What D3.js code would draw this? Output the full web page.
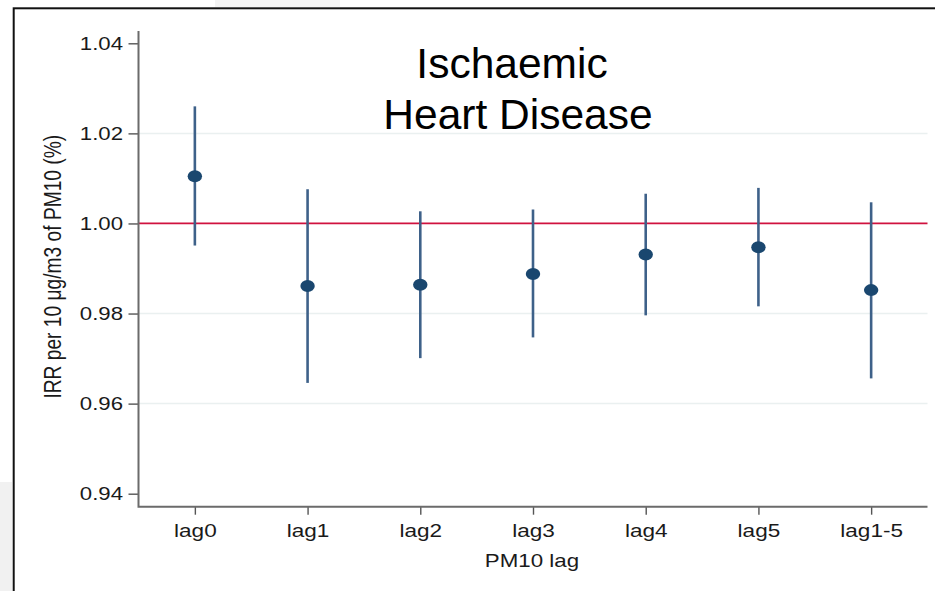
<!DOCTYPE html>
<html>
<head>
<meta charset="utf-8">
<script src="https://cdn.jsdelivr.net/npm/d3@7"></script>
<style>
  html, body { margin: 0; padding: 0; background: #fff; }
  svg { display: block; font-family: "Liberation Sans", Arial, sans-serif; }
</style>
</head>
<body>
<div id="chart"></div>
<script>
// Data
const lags = ["lag0", "lag1", "lag2", "lag3", "lag4", "lag5", "lag1-5"];
const irr = [1.0105, 0.9861, 0.9864, 0.9888, 0.9931, 0.9947, 0.9852];
const lower = [0.9951, 0.9646, 0.9701, 0.9747, 0.9796, 0.9816, 0.9656];
const upper = [1.0260, 1.0076, 1.0027, 1.0031, 1.0066, 1.0079, 1.0047];
const yTicks = [0.94, 0.96, 0.98, 1.00, 1.02, 1.04];
const gridTicks = [0.96, 0.98, 1.02];
const refValue = 1.00;

const fullWidth = 935;
const fullHeight = 591;
const stretch = 1.22; // the Stata graph was pasted slightly wide

const plot = { left: 138.5, right: 927.5, top: 31, bottom: 506.7 };

const svg = d3.select("#chart")
  .append("svg")
  .attr("width", fullWidth)
  .attr("height", fullHeight);

// slide background bits outside the frame
svg.append("rect").attr("x", 0).attr("y", 482).attr("width", 12).attr("height", 109).attr("fill", "#f1f1f1");
svg.append("rect").attr("x", 215).attr("y", 0).attr("width", 125).attr("height", 7).attr("fill", "#f3f3f3");

// frame
svg.append("rect")
  .attr("x", 13.7)
  .attr("y", 8.3)
  .attr("width", fullWidth)
  .attr("height", fullHeight)
  .attr("fill", "#fff")
  .attr("stroke", "#111")
  .attr("stroke-width", 2);

// Scales
const xScale = d3.scalePoint()
  .domain(lags)
  .range([plot.left, plot.right])
  .padding(0.5);

const yScale = d3.scaleLinear()
  .domain([0.94, 1.04])
  .range([493.7, 43.3]);

// Grid Lines
svg.append("g")
  .selectAll("line")
  .data(gridTicks)
  .join("line")
  .attr("x1", plot.left)
  .attr("x2", plot.right)
  .attr("y1", d => yScale(d))
  .attr("y2", d => yScale(d))
  .attr("stroke", "#eaf0f0")
  .attr("stroke-width", 1.5);

// reference line at 1
svg.append("line")
  .attr("x1", plot.left)
  .attr("x2", plot.right)
  .attr("y1", yScale(refValue))
  .attr("y2", yScale(refValue))
  .attr("stroke", "#d0123f")
  .attr("stroke-width", 1.8);

// Y Axis
const yAxis = svg.append("g")
  .attr("transform", `translate(${plot.left},0)`)
  .call(d3.axisLeft(yScale)
    .tickValues(yTicks)
    .tickFormat(d3.format(".2f"))
    .tickSize(10)
    .tickSizeOuter(0)
    .tickPadding(0));
yAxis.select(".domain").remove();
yAxis.selectAll(".tick line").attr("stroke", "#555").attr("stroke-width", 1.4);
yAxis.selectAll(".tick text")
  .attr("x", -15.5 / stretch)
  .attr("transform", `scale(${stretch},1)`)
  .attr("fill", "#1a1a1a")
  .style("font-size", "18.2px");

// X Axis
const xAxis = svg.append("g")
  .attr("transform", `translate(0,${plot.bottom})`)
  .call(d3.axisBottom(xScale)
    .tickSize(8)
    .tickSizeOuter(0)
    .tickPadding(9.5));
xAxis.select(".domain").remove();
xAxis.selectAll(".tick line").attr("stroke", "#555").attr("stroke-width", 1.4);
xAxis.selectAll(".tick text")
  .attr("transform", `scale(${stretch},1)`)
  .attr("fill", "#1a1a1a")
  .style("font-size", "18.5px");

// axis lines
svg.append("path")
  .attr("d", `M${plot.left},${plot.top}V${plot.bottom}H${plot.right}`)
  .attr("fill", "none")
  .attr("stroke", "#6b6b6b")
  .attr("stroke-width", 2);

// Axis titles
svg.append("text")
  .attr("transform", `translate(61,266.7) scale(${stretch},1) rotate(-90)`)
  .attr("text-anchor", "middle")
  .attr("fill", "#1a1a1a")
  .style("font-size", "19.2px")
  .text("IRR per 10 μg/m3 of PM10 (%)");

svg.append("text")
  .attr("transform", `translate(532,566.7) scale(${stretch},1)`)
  .attr("text-anchor", "middle")
  .attr("fill", "#1a1a1a")
  .style("font-size", "18.3px")
  .text("PM10 lag");

// Confidence intervals
const rows = lags.map((lag, i) => ({ lag, irr: irr[i], lo: lower[i], hi: upper[i] }));

svg.append("g")
  .selectAll("line")
  .data(rows)
  .join("line")
  .attr("x1", d => xScale(d.lag))
  .attr("x2", d => xScale(d.lag))
  .attr("y1", d => yScale(d.lo))
  .attr("y2", d => yScale(d.hi))
  .attr("stroke", "#3e6189")
  .attr("stroke-width", 2.6);

// Point estimates
svg.append("g")
  .selectAll("ellipse")
  .data(rows)
  .join("ellipse")
  .attr("cx", d => xScale(d.lag))
  .attr("cy", d => yScale(d.irr))
  .attr("rx", 7.2)
  .attr("ry", 6)
  .attr("fill", "#1a476f");

// Title
const title = svg.append("text")
  .attr("text-anchor", "middle")
  .attr("fill", "#000")
  .style("font-size", "42.5px");
title.append("tspan").attr("x", 512).attr("y", 78).text("Ischaemic");
title.append("tspan").attr("x", 518).attr("y", 129).text("Heart Disease");
</script>
</body>
</html>
